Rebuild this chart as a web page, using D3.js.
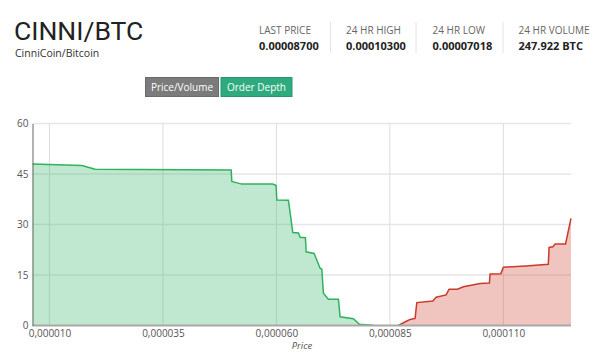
<!DOCTYPE html>
<html><head><meta charset="utf-8">
<script src="https://cdn.jsdelivr.net/npm/d3@7/dist/d3.min.js"></script>
<style>
html,body{margin:0;padding:0;background:#fff;}
svg{display:block;}
</style></head>
<body>
<svg id="c" width="599" height="357"></svg>
<script>
// ---- data ----
const pair = "CINNI/BTC";
const pairName = "CinniCoin/Bitcoin";
const statLabels = ["LAST PRICE", "24 HR HIGH", "24 HR LOW", "24 HR VOLUME"];
const statValues = ["0.00008700", "0.00010300", "0.00007018", "247.922 BTC"];
const buttons = ["Price/Volume", "Order Depth"];
// bids: price (x1e-6 BTC), cumulative volume
const bidPrice = [6.26, 17.14, 20.07, 50.02, 50.18, 52.38, 59.21, 59.93, 60.09, 62.64, 63.61, 64.85, 65.22, 66.39, 66.54, 68.30, 69.63, 70.00, 70.35, 71.45, 73.66, 74.03, 76.96, 78.28, 81.37];
const bidVolume = [48.0, 47.5, 46.4, 46.2, 42.8, 42.0, 42.0, 41.6, 37.3, 37.2, 27.6, 27.5, 26.2, 26.1, 21.9, 21.4, 17.0, 16.7, 9.6, 7.8, 7.8, 2.6, 2.0, 0.35, 0.05];
// asks
const askPrice = [86.87, 88.85, 89.45, 90.55, 90.93, 94.45, 95.18, 97.38, 98.04, 99.87, 101.19, 104.87, 106.92, 107.07, 109.43, 110.0, 115.0, 119.9, 120.07, 120.9, 121.4, 123.7, 124.9];
const askVolume = [0.0, 1.4, 1.8, 2.1, 6.8, 7.3, 8.4, 9.1, 10.8, 10.8, 11.5, 12.5, 12.6, 15.3, 15.4, 17.3, 17.7, 18.2, 23.2, 23.4, 24.2, 24.2, 31.8];
const xTicks = [10, 35, 60, 85, 110];
const xTickLabels = ["0,000010", "0,000035", "0,000060", "0,000085", "0,000110"];
const yTicks = [0, 15, 30, 45, 60];
const xLabel = "Price";

const svg = d3.select("#c");
const font = "'Open Sans', sans-serif";

// ---- header ----
svg.append("text").attr("x", 14).attr("y", 39.5).text(pair)
  .attr("font-family", "Roboto, sans-serif").attr("font-size", 26.5).attr("fill", "#222");
svg.append("text").attr("x", 15).attr("y", 57).text(pairName)
  .attr("font-family", font).attr("font-size", 10.5).attr("fill", "#333");

const statX = [259, 346, 432.5, 518.5];
statLabels.forEach((l, i) => {
  svg.append("text").attr("x", statX[i]).attr("y", 34).text(l)
    .attr("font-family", font).attr("font-size", 10).attr("fill", "#666");
  svg.append("text").attr("x", statX[i]).attr("y", 49.5).text(statValues[i])
    .attr("font-family", font).attr("font-size", 11).attr("font-weight", "bold").attr("fill", "#222");
});
[330.5, 416, 503].forEach(x => {
  svg.append("line").attr("x1", x).attr("x2", x).attr("y1", 22).attr("y2", 53)
    .attr("stroke", "#e4e4e4").attr("stroke-width", 1);
});

// buttons
const btn = [{x: 145, w: 73, fill: "#7b7b7b", stroke: "#6a6a6a"}, {x: 220.5, w: 71, fill: "#2eab7e", stroke: "#27976f"}];
buttons.forEach((b, i) => {
  svg.append("rect").attr("x", btn[i].x + 0.5).attr("y", 77.5).attr("width", btn[i].w).attr("height", 19)
    .attr("fill", btn[i].fill).attr("stroke", btn[i].stroke);
  svg.append("text").attr("x", btn[i].x + 0.5 + btn[i].w / 2).attr("y", 91).attr("text-anchor", "middle")
    .text(b).attr("font-family", font).attr("font-size", 10).attr("fill", "#fff");
});

// ---- chart ----
const L = 32.5, R = 571, T = 123.5, B = 325.5;
const x = d3.scaleLinear().domain([6.26, 124.9]).range([L, R]);
const y = d3.scaleLinear().domain([0, 60]).range([B, T]);

const g = svg.append("g");
// grid
yTicks.filter(d => d > 0).forEach(t => {
  g.append("line").attr("x1", L).attr("x2", R).attr("y1", y(t)).attr("y2", y(t))
    .attr("stroke", "#e6e6e6").attr("stroke-width", 1.5);
});
xTicks.forEach(t => {
  g.append("line").attr("x1", x(t)).attr("x2", x(t)).attr("y1", T).attr("y2", B)
    .attr("stroke", "#dedede").attr("stroke-width", 1);
});

const bids = bidPrice.map((p, i) => [p, bidVolume[i]]);
const asks = askPrice.map((p, i) => [p, askVolume[i]]);
const area = d3.area().x(d => x(d[0])).y0(y(0)).y1(d => y(d[1]));
const line = d3.line().x(d => x(d[0])).y(d => y(d[1]));

g.append("path").datum(bids).attr("d", area).attr("fill", "#3cb96e").attr("fill-opacity", 0.32);
g.append("path").datum(asks).attr("d", area).attr("fill", "#cc3a2c").attr("fill-opacity", 0.3);
g.append("path").datum(bids).attr("d", line).attr("fill", "none").attr("stroke", "#2fb25e").attr("stroke-width", 1.5);
g.append("path").datum(asks).attr("d", line).attr("fill", "none").attr("stroke", "#cc3a2c").attr("stroke-width", 1.5);

// axes
const xAxis = d3.axisBottom(x).tickValues(xTicks).tickFormat((d, i) => xTickLabels[i]).tickSize(0).tickPadding(4);
const xa = svg.append("g").attr("transform", `translate(0,${B})`).call(xAxis);
xa.select(".domain").attr("stroke", "#a8a8a8").attr("stroke-width", 2).attr("d", `M${L},0H${R}`);
xa.selectAll("text").attr("font-family", font).attr("font-size", 10).attr("fill", "#555");

const yAxis = d3.axisLeft(y).tickValues(yTicks).tickSize(0).tickPadding(4);
const ya = svg.append("g").attr("transform", `translate(${L},0)`).call(yAxis);
ya.select(".domain").attr("stroke", "#666").attr("stroke-width", 1);
ya.selectAll("text").attr("font-family", font).attr("font-size", 10).attr("fill", "#555");

svg.append("text").attr("x", 302).attr("y", 349).attr("text-anchor", "middle").text(xLabel)
  .attr("font-family", font).attr("font-size", 9.5).attr("font-style", "italic").attr("fill", "#555");
</script>
</body></html>
